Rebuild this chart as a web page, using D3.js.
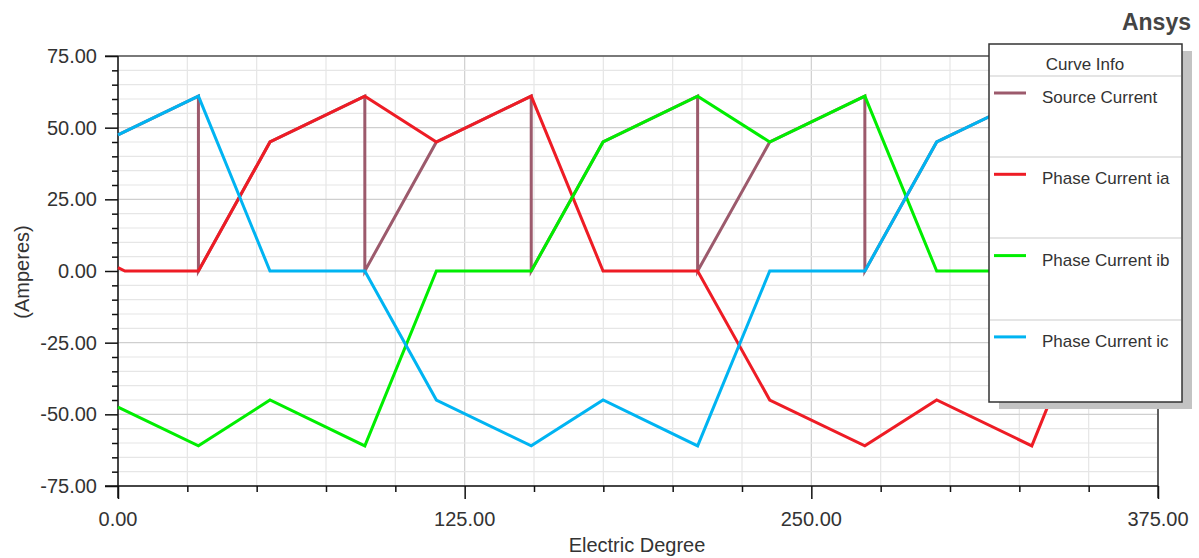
<!DOCTYPE html>
<html><head><meta charset="utf-8">
<script src="https://cdn.jsdelivr.net/npm/d3@7"></script>
<style>
html,body{margin:0;padding:0;background:#fff;}
svg{display:block;font-family:"Liberation Sans",Arial,sans-serif;}
</style></head>
<body>
<svg id="chart" width="1199" height="558"></svg>
<script>
// ---- data ----
const xTicks = [0, 125, 250, 375];
const yTicks = [-75, -50, -25, 0, 25, 50, 75];
const seriesNames = ["Source Current", "Phase Current ia", "Phase Current ib", "Phase Current ic"];
const seriesColors = ["#9c5a6c", "#ee1c25", "#00ee00", "#00b4f2"];

const srcDeg = [0, 29, 29, 54.8, 89, 89, 114.8, 149, 149, 174.9, 209, 209, 235, 269.3, 269.3, 295.2, 329.5, 329.5, 355, 360];
const srcAmp = [47.5, 61, 0, 45, 61, 0, 45, 61, 0, 45, 61, 0, 45, 61, 0, 45, 61, 0, 45, 47.5];

const iaDeg = [0, 2.5, 29, 54.8, 89, 114.8, 149, 174.9, 209, 235, 269.3, 295.2, 329.5, 355, 360];
const iaAmp = [1.2, 0, 0, 45, 61, 45, 61, 0, 0, -45, -61, -45, -61, 0, 0];

const ibDeg = [0, 29, 54.8, 89, 114.8, 149, 174.9, 209, 235, 269.3, 295.2, 329.5, 355, 360];
const ibAmp = [-47.5, -61, -45, -61, 0, 0, 45, 61, 45, 61, 0, 0, -45, -47.5];

const icDeg = [0, 29, 54.8, 89, 114.8, 149, 174.9, 209, 235, 269.3, 295.2, 329.5, 355, 360];
const icAmp = [47.5, 61, 0, 0, -45, -61, -45, -61, 0, 0, 45, 61, 45, 47.5];

// ---- layout ----
const svg = d3.select("#chart");
const L = 118, R = 1158, T = 56, B = 486;
const x = d3.scaleLinear().domain([0, 375]).range([L, R]);
const y = d3.scaleLinear().domain([-75, 75]).range([B, T]);
const textCol = "#333";

// grid
const g = svg.append("g");
const xMinor = d3.range(0, 376, 25);
const yMinor = d3.range(-75, 76, 5);
g.selectAll(".gx").data(xMinor).join("line")
  .attr("x1", d => x(d)).attr("x2", d => x(d)).attr("y1", T).attr("y2", B)
  .attr("stroke", d => d % 125 === 0 ? "#cfcfcf" : "#e6e6e6").attr("stroke-width", 1.2);
g.selectAll(".gy").data(yMinor).join("line")
  .attr("x1", L).attr("x2", R).attr("y1", d => y(d)).attr("y2", d => y(d))
  .attr("stroke", d => d % 25 === 0 ? "#cfcfcf" : "#e6e6e6").attr("stroke-width", 1.2);

// frame
svg.append("line").attr("x1", L - 13).attr("x2", R).attr("y1", T).attr("y2", T).attr("stroke", "#555").attr("stroke-width", 1.5);
svg.append("line").attr("x1", R).attr("x2", R).attr("y1", T).attr("y2", B + 12).attr("stroke", "#333").attr("stroke-width", 1.5);

// axes
const yAxis = d3.axisLeft(y).tickValues(yMinor).tickSize(0).tickFormat("");
const yg = svg.append("g").attr("transform", `translate(${L},0)`).call(yAxis);
yg.select(".domain").remove();
yg.selectAll(".tick line").attr("x2", d => d % 25 === 0 ? -13 : -6).attr("stroke", "#111").attr("stroke-width", 1.5);
const xAxis = d3.axisBottom(x).tickValues(xMinor).tickSize(0).tickFormat("");
const xg = svg.append("g").attr("transform", `translate(0,${B})`).call(xAxis);
xg.select(".domain").remove();
xg.selectAll(".tick line").attr("y2", d => d % 125 === 0 ? 13 : 6).attr("stroke", "#111").attr("stroke-width", 1.5);
svg.append("line").attr("x1", L).attr("x2", L).attr("y1", T).attr("y2", B + 12).attr("stroke", "#111").attr("stroke-width", 1.5);
svg.append("line").attr("x1", L - 13).attr("x2", R).attr("y1", B).attr("y2", B).attr("stroke", "#111").attr("stroke-width", 1.5);

// tick labels
svg.selectAll(".yl").data(yTicks).join("text")
  .attr("x", 97).attr("y", d => y(d)).attr("dy", "0.35em").attr("text-anchor", "end")
  .attr("font-size", 20).attr("fill", textCol).text(d => d.toFixed(2));
svg.selectAll(".xl").data(xTicks).join("text")
  .attr("x", d => x(d)).attr("y", 519).attr("dy", "0.35em").attr("text-anchor", "middle")
  .attr("font-size", 20).attr("fill", textCol).text(d => d.toFixed(2));

svg.append("text").attr("x", 637).attr("y", 545).attr("dy", "0.35em").attr("text-anchor", "middle")
  .attr("font-size", 20).attr("fill", textCol).text("Electric Degree");
svg.append("text").attr("transform", "translate(22,272) rotate(-90)").attr("dy", "0.35em").attr("text-anchor", "middle")
  .attr("font-size", 20).attr("fill", textCol).text("(Amperes)");

svg.append("text").attr("x", 1191).attr("y", 22).attr("dy", "0.35em").attr("text-anchor", "end")
  .attr("font-size", 23).attr("font-weight", "bold").attr("fill", "#444").text("Ansys");

// series
const line = d3.line().x(d => x(d[0])).y(d => y(d[1]));
const series = [
  {deg: srcDeg, amp: srcAmp, w: 3},
  {deg: iaDeg, amp: iaAmp, w: 3},
  {deg: ibDeg, amp: ibAmp, w: 3},
  {deg: icDeg, amp: icAmp, w: 3}
];
series.forEach((s, i) => {
  const pts = s.deg.map((d, k) => [d, s.amp[k]]);
  svg.append("path").attr("d", line(pts)).attr("fill", "none")
    .attr("stroke", seriesColors[i]).attr("stroke-width", s.w).attr("stroke-linejoin", "miter");
});

// legend
const lg = svg.append("g");
const lx = 989, ly = 44, lw = 193, lh = 358;
lg.append("rect").attr("x", lx + 10).attr("y", ly + 7).attr("width", lw).attr("height", lh).attr("fill", "#c3c3c3");
lg.append("rect").attr("x", lx).attr("y", ly).attr("width", lw).attr("height", lh).attr("fill", "#fff").attr("stroke", "#333").attr("stroke-width", 1.5);
lg.append("text").attr("x", 1085).attr("y", 64).attr("dy", "0.35em").attr("text-anchor", "middle")
  .attr("font-size", 17).attr("fill", textCol).text("Curve Info");
const sepY = [76, 157, 238, 320];
lg.selectAll(".sep").data(sepY).join("line")
  .attr("x1", lx + 1).attr("x2", lx + lw - 1).attr("y1", d => d).attr("y2", d => d)
  .attr("stroke", "#cccccc").attr("stroke-width", 1.2);
seriesNames.forEach((n, i) => {
  const yy = 93 + i * 81.3;
  lg.append("line").attr("x1", 994).attr("x2", 1026).attr("y1", yy).attr("y2", yy)
    .attr("stroke", seriesColors[i]).attr("stroke-width", 3);
  lg.append("text").attr("x", 1042).attr("y", yy + 4).attr("dy", "0.35em")
    .attr("font-size", 17).attr("fill", textCol).text(n);
});
</script>
</body></html>
